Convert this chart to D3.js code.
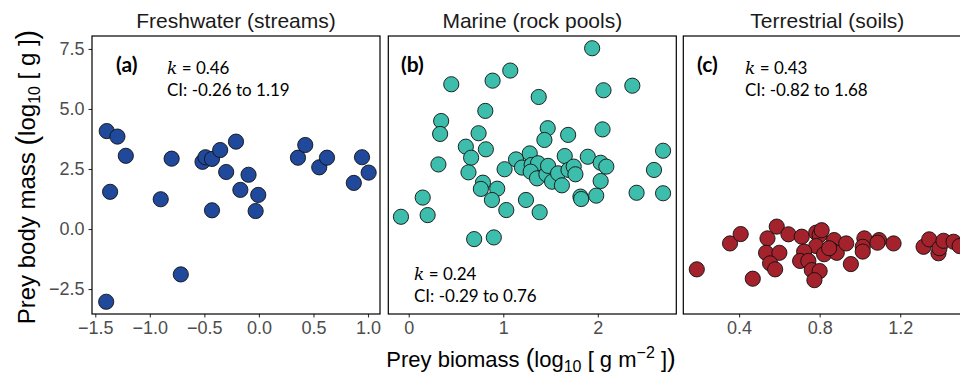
<!DOCTYPE html>
<html>
<head>
<meta charset="utf-8">
<script src="https://cdn.jsdelivr.net/npm/d3@7"></script>
<style>
  body { margin: 0; background: #fff; }
  svg { display: block; }
</style>
</head>
<body>
<svg id="viz" width="960" height="374"></svg>
<script>
// ---------------------------//
//       DATA                 //
// ---------------------------//

var panelTitles = ["Freshwater (streams)", "Marine (rock pools)", "Terrestrial (soils)"]
var panelTags = ["(a)", "(b)", "(c)"]
var kValues = ["0.46", "0.24", "0.43"]
var ciTexts = ["CI: -0.26 to 1.19", "CI: -0.29 to 0.76", "CI: -0.82 to 1.68"]

var freshX = [-1.395, -1.297, -1.22, -1.364, -1.40, -0.80, -0.90, -0.716, -0.517, -0.49, -0.43, -0.355, -0.43,
              -0.30, -0.21, -0.17, -0.095, -0.006, -0.03, 0.358, 0.425, 0.553, 0.624, 0.87, 0.945, 1.006]
var freshY = [4.08, 3.85, 3.05, 1.55, -3.03, 2.93, 1.24, -1.89, 2.80, 2.99, 2.92, 3.29, 0.78,
              2.375, 3.64, 1.63, 2.26, 1.42, 0.75, 2.97, 3.5, 2.57, 2.97, 1.92, 2.99, 2.35]

var marineX = [1.94, 0.45, 0.887, 1.074, 1.375, 2.06, 2.365, 0.81, 0.343, 0.332, 0.739, 1.47, 1.435, 1.686, 2.05,
               0.604, 0.66, 0.816, 0.314, 0.632, 0.785, 0.763, 0.936, 0.88, 1.032, 0.148, 0.20, -0.082, 0.692, 0.90,
               1.24, 1.385, 1.014, 1.135, 1.198, 1.28, 1.30, 1.368, 1.29, 1.357, 1.456, 1.474, 1.516, 1.58, 1.62,
               1.65, 1.69, 1.745, 1.763, 1.816, 1.824, 1.894, 1.983, 2.03, 2.03, 2.09, 2.41, 2.594, 2.69, 2.69]
var marineY = [7.53, 6.03, 6.18, 6.60, 5.5, 5.78, 5.97, 4.92, 4.5, 3.96, 3.99, 4.2, 3.71, 3.92, 4.15,
               3.43, 2.97, 3.32, 2.69, 2.36, 1.93, 1.67, 1.68, 1.21, 0.79, 1.31, 0.58, 0.51, -0.42, -0.35,
               1.21, 0.70, 2.49, 2.9, 2.56, 3.15, 2.67, 2.74, 2.39, 2.11, 2.28, 2.63, 1.97, 2.32, 1.82,
               3.04, 2.46, 2.6, 2.28, 1.35, 1.25, 3.01, 1.39, 2.0, 2.76, 2.6, 1.51, 2.46, 3.26, 1.49]

var soilX = [0.19, 0.355, 0.408, 0.468, 0.541, 0.587, 0.534, 0.60, 0.554, 0.579, 0.645, 0.711, 0.783, 0.80,
             0.783, 0.723, 0.703, 0.744, 0.761, 0.80, 0.774, 0.872, 0.855, 0.822, 0.885, 0.932, 0.955, 1.022,
             1.014, 1.014, 1.095, 1.087, 1.167, 1.316, 1.344, 1.39, 1.395, 1.415, 1.465, 1.495, 0.847, 0.81]
var soilY = [-1.68, -0.6, -0.21, -2.07, -0.39, 0.10, -0.99, -0.99, -1.43, -1.68, -0.22, -0.32, -0.15, -0.25,
             -0.71, -0.94, -1.33, -1.33, -1.71, -1.75, -2.13, -0.46, -0.85, -1.05, -0.99, -0.6, -1.46, -0.39,
             -0.74, -0.94, -0.46, -0.57, -0.6, -0.74, -0.43, -1.01, -0.8, -0.49, -0.53, -0.71, -0.8, -0.05]

var xDomains = [[-1.53, 1.11], [-0.216, 2.83], [0.123, 1.553]]
var xTicks = [[-1.5, -1.0, -0.5, 0.0, 0.5, 1.0], [0, 1, 2], [0.4, 0.8, 1.2]]
var xFormats = [".1f", "d", ".1f"]
var yTicks = [-2.5, 0.0, 2.5, 5.0, 7.5]
var fills = ["#21499b", "#3dbdac", "#a3222c"]

var panels = [
  {xs: freshX, ys: freshY},
  {xs: marineX, ys: marineY},
  {xs: soilX, ys: soilY}
]

// ---------------------------//
//       LAYOUT               //
// ---------------------------//
var plotTop = 36, plotBottom = 314
var lefts = [92, 388.3, 683.3]
var pw = 288

var svg = d3.select("#viz")
var minus = function(s){ return s.replace("-", "\u2212") }

var y = d3.scaleLinear().domain([-3.54, 8.04]).range([plotBottom, plotTop])

panels.forEach(function(p, i){
  var g = svg.append("g")
  var x = d3.scaleLinear().domain(xDomains[i]).range([lefts[i], lefts[i] + pw])

  // title
  g.append("text")
    .attr("x", lefts[i] + pw/2)
    .attr("y", 28)
    .attr("text-anchor", "middle")
    .style("font-family", "Liberation Sans, Arial, sans-serif")
    .style("font-size", "21px")
    .style("fill", "#1a1a1a")
    .text(panelTitles[i])

  // x axis
  var xAxis = d3.axisBottom(x)
    .tickValues(xTicks[i])
    .tickSize(3.5)
    .tickPadding(4)
    .tickFormat(function(d){ return minus(d3.format(xFormats[i])(d)) })
  var ax = g.append("g")
    .attr("transform", "translate(0," + plotBottom + ")")
    .call(xAxis)
  ax.select(".domain").remove()
  ax.selectAll("line").attr("stroke", "#333").attr("stroke-width", 1.1)
  ax.selectAll("text")
    .style("font-family", "Liberation Sans, Arial, sans-serif")
    .style("font-size", "18px")
    .style("fill", "#4d4d4d")

  // y axis only on first panel
  if (i == 0){
    var yAxis = d3.axisLeft(y)
      .tickValues(yTicks)
      .tickSize(3.5)
      .tickPadding(4)
      .tickFormat(function(d){ return minus(d3.format(".1f")(d)) })
    var ay = g.append("g")
      .attr("transform", "translate(" + lefts[i] + ",0)")
      .call(yAxis)
    ay.select(".domain").remove()
    ay.selectAll("line").attr("stroke", "#333").attr("stroke-width", 1.1)
    ay.selectAll("text")
      .style("font-family", "Liberation Sans, Arial, sans-serif")
      .style("font-size", "18px")
      .style("fill", "#4d4d4d")
  }

  // clip + points
  g.append("clipPath").attr("id", "clip" + i)
    .append("rect")
      .attr("x", lefts[i]).attr("y", plotTop)
      .attr("width", pw).attr("height", plotBottom - plotTop)

  g.append("g")
    .attr("clip-path", "url(#clip" + i + ")")
    .selectAll("circle")
    .data(d3.range(p.xs.length))
    .enter()
    .append("circle")
      .attr("cx", function(j){ return x(p.xs[j]) })
      .attr("cy", function(j){ return y(p.ys[j]) })
      .attr("r", 7.6)
      .style("fill", fills[i])
      .style("stroke", "#111")
      .style("stroke-width", 0.9)

  // panel border
  g.append("rect")
    .attr("x", lefts[i]).attr("y", plotTop)
    .attr("width", pw).attr("height", plotBottom - plotTop)
    .style("fill", "none")
    .style("stroke", "#000")
    .style("stroke-width", 1.2)
})

// ---------------------------//
//       ANNOTATIONS          //
// ---------------------------//
var tagPos = [[116, 72], [401, 72], [697, 72]]
var kPos = [[167, 74], [414, 280], [745, 74]]

tagPos.forEach(function(t, i){
  svg.append("text")
    .attr("x", t[0]).attr("y", t[1])
    .style("font-family", "Lato, sans-serif")
    .style("font-weight", "bold")
    .style("font-size", "21px")
    .style("fill", "#000")
    .text(panelTags[i])

  var kt = svg.append("text")
    .attr("x", kPos[i][0]).attr("y", kPos[i][1])
    .style("font-family", "Lato, sans-serif")
    .style("font-size", "17px")
    .style("fill", "#000")
  kt.append("tspan")
    .style("font-family", "DejaVu Serif, serif")
    .style("font-style", "italic")
    .style("font-size", "17px")
    .text("k")
  kt.append("tspan").text(" = " + kValues[i])

  svg.append("text")
    .attr("x", kPos[i][0]).attr("y", kPos[i][1] + 22)
    .style("font-family", "Lato, sans-serif")
    .style("font-size", "17px")
    .style("fill", "#000")
    .text(ciTexts[i])
})

// axis titles
var xl = svg.append("text")
  .attr("x", 531)
  .attr("y", 367)
  .attr("text-anchor", "middle")
  .style("font-family", "Liberation Sans, Arial, sans-serif")
  .style("font-size", "22px")
  .style("fill", "#000")
xl.append("tspan").text("Prey biomass ")
xl.append("tspan").style("font-size", "26px").text("(")
xl.append("tspan").text("log")
xl.append("tspan").style("font-size", "16px").attr("dy", 5).text("10")
xl.append("tspan").attr("dy", -5).text(" [ g m")
xl.append("tspan").style("font-size", "16px").attr("dy", -9).text("\u22122")
xl.append("tspan").attr("dy", 9).text(" ]")
xl.append("tspan").style("font-size", "26px").text(")")

var yl = svg.append("text")
  .attr("transform", "translate(35,177) rotate(-90)")
  .attr("text-anchor", "middle")
  .style("font-family", "Liberation Sans, Arial, sans-serif")
  .style("font-size", "24px")
  .style("fill", "#000")
yl.append("tspan").text("Prey body mass ")
yl.append("tspan").style("font-size", "29px").attr("dy", 2).text("(")
yl.append("tspan").attr("dy", -2).text("log")
yl.append("tspan").style("font-size", "16px").attr("dy", 5).text("10")
yl.append("tspan").attr("dy", -5).text(" [ g ]")
yl.append("tspan").style("font-size", "29px").attr("dy", 2).text(")")
</script>
</body>
</html>
